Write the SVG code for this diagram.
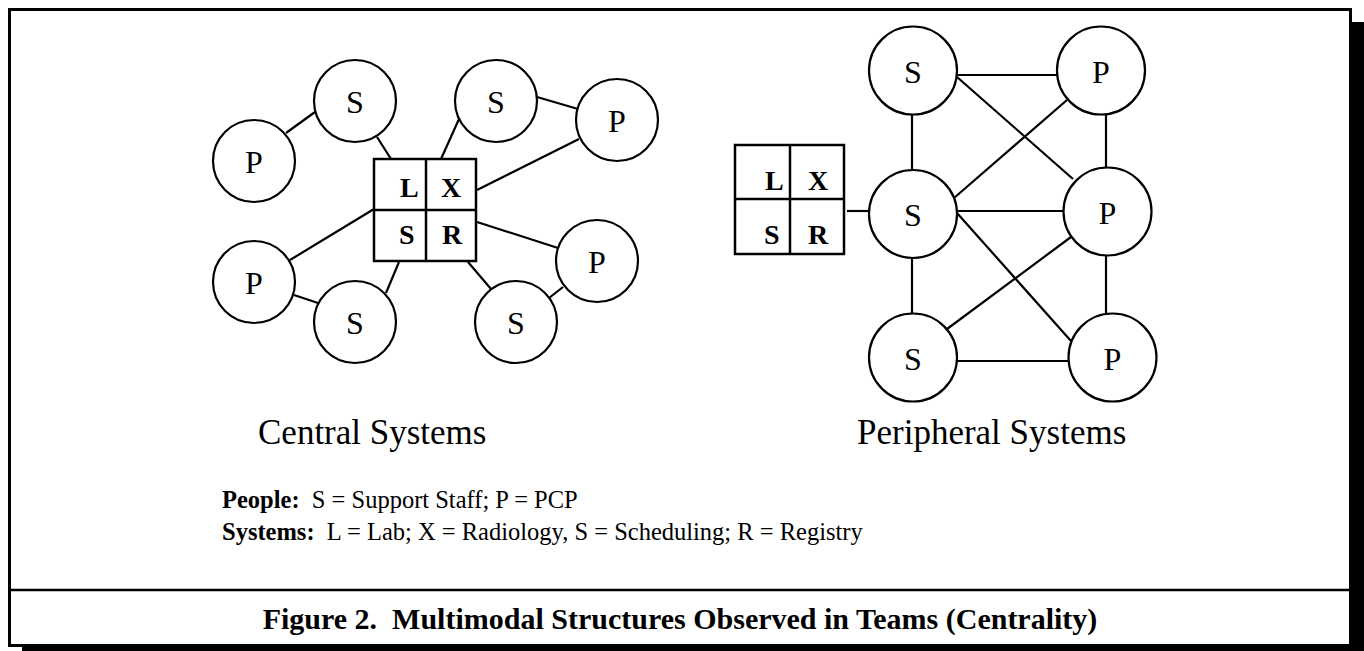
<svg xmlns="http://www.w3.org/2000/svg" width="1364" height="651" viewBox="0 0 1364 651">
<style>
.node circle{fill:#fff;stroke:#000;stroke-width:2.2}
.box rect{fill:#fff;stroke:#000;stroke-width:2.5}
.box line{stroke:#000;stroke-width:2.5}
.conn line{stroke:#000;stroke-width:2.2}
.nl{font-family:"Liberation Serif","Times New Roman",serif;font-size:32px;text-anchor:middle;fill:#000}
.bl{font-family:"Liberation Serif","Times New Roman",serif;font-size:28px;font-weight:bold;fill:#000}
.lab{font-family:"Liberation Serif","Times New Roman",serif;font-size:35px;fill:#000}
.leg{font-family:"Liberation Serif","Times New Roman",serif;font-size:24.5px;fill:#000}
.cap{font-family:"Liberation Serif","Times New Roman",serif;font-size:30px;font-weight:bold;text-anchor:middle;fill:#000}
</style>
<rect x="22" y="22" width="1342" height="629" fill="#000"/>
<rect x="9.5" y="9.5" width="1341" height="636" fill="#fff" stroke="#000" stroke-width="3"/>
<line x1="9.5" y1="590" x2="1350.5" y2="590" stroke="#000" stroke-width="2.5"/>

<g id="connectors" class="conn">
<line x1="286" y1="133" x2="315" y2="112"/>
<line x1="377" y1="137" x2="391" y2="159"/>
<line x1="459" y1="119" x2="441" y2="159"/>
<line x1="537" y1="97" x2="578" y2="109"/>
<line x1="579" y1="139" x2="477" y2="190"/>
<line x1="374" y1="209" x2="290" y2="260"/>
<line x1="294" y1="295" x2="318" y2="303"/>
<line x1="399" y1="262" x2="386" y2="293"/>
<line x1="477" y1="222" x2="558" y2="248"/>
<line x1="468" y1="262" x2="491" y2="289"/>
<line x1="549" y1="298" x2="563" y2="287"/>
<line x1="847" y1="211" x2="868" y2="211"/>
<line x1="957" y1="75" x2="1057" y2="75"/>
<line x1="912" y1="115" x2="912" y2="170"/>
<line x1="912" y1="258" x2="912" y2="313"/>
<line x1="1106" y1="115" x2="1106" y2="167"/>
<line x1="1106" y1="256" x2="1106" y2="313"/>
<line x1="957" y1="77" x2="1073" y2="179"/>
<line x1="954" y1="198" x2="1067" y2="100"/>
<line x1="957" y1="211" x2="1063" y2="211"/>
<line x1="957" y1="213" x2="1071" y2="341"/>
<line x1="947" y1="329" x2="1071" y2="237"/>
<line x1="957" y1="361" x2="1068" y2="361"/>
</g>

<g id="c-p1" class="node"><circle cx="254" cy="161" r="41"/><text class="nl" x="254" y="173">P</text></g>
<g id="c-s1" class="node"><circle cx="355" cy="101" r="41"/><text class="nl" x="355" y="113">S</text></g>
<g id="c-s2" class="node"><circle cx="496" cy="101" r="41"/><text class="nl" x="496" y="113">S</text></g>
<g id="c-p2" class="node"><circle cx="617" cy="120" r="41"/><text class="nl" x="617" y="132">P</text></g>
<g id="c-p3" class="node"><circle cx="254" cy="282" r="41"/><text class="nl" x="254" y="294">P</text></g>
<g id="c-s3" class="node"><circle cx="355" cy="322" r="41"/><text class="nl" x="355" y="334">S</text></g>
<g id="c-s4" class="node"><circle cx="516" cy="322" r="41"/><text class="nl" x="516" y="334">S</text></g>
<g id="c-p4" class="node"><circle cx="597" cy="261" r="41"/><text class="nl" x="597" y="273">P</text></g>

<g id="c-box" class="box">
<rect x="374" y="159" width="102" height="102"/>
<line x1="426" y1="159" x2="426" y2="261"/>
<line x1="374" y1="210" x2="476" y2="210"/>
<text class="bl" x="400" y="197">L</text>
<text class="bl" x="441" y="197">X</text>
<text class="bl" x="399" y="244">S</text>
<text class="bl" x="442" y="244">R</text>
</g>

<g id="p-box" class="box">
<rect x="735" y="145" width="109" height="109"/>
<line x1="790" y1="145" x2="790" y2="254"/>
<line x1="735" y1="199" x2="844" y2="199"/>
<text class="bl" x="765" y="190">L</text>
<text class="bl" x="808" y="190">X</text>
<text class="bl" x="764" y="244">S</text>
<text class="bl" x="808" y="244">R</text>
</g>

<g id="p-s1" class="node"><circle cx="913" cy="70.5" r="44"/><text class="nl" x="913" y="83">S</text></g>
<g id="p-p1" class="node"><circle cx="1101" cy="70.5" r="44"/><text class="nl" x="1101" y="83">P</text></g>
<g id="p-s2" class="node"><circle cx="913" cy="214" r="44"/><text class="nl" x="913" y="226">S</text></g>
<g id="p-p2" class="node"><circle cx="1107.5" cy="211.5" r="44"/><text class="nl" x="1107.5" y="224">P</text></g>
<g id="p-s3" class="node"><circle cx="913" cy="357.5" r="44"/><text class="nl" x="913" y="370">S</text></g>
<g id="p-p3" class="node"><circle cx="1112.5" cy="357.5" r="44"/><text class="nl" x="1112.5" y="370">P</text></g>

<g id="labels">
<text class="lab" x="258" y="444">Central Systems</text>
<text class="lab" x="857" y="444">Peripheral Systems</text>
</g>

<g id="legend">
<text class="leg" x="222" y="508" xml:space="preserve"><tspan font-weight="bold">People:</tspan>  S = Support Staff; P = PCP</text>
<text class="leg" x="222" y="540" xml:space="preserve"><tspan font-weight="bold">Systems:</tspan>  L = Lab; X = Radiology, S = Scheduling; R = Registry</text>
</g>

<g id="caption">
<text class="cap" x="680" y="629" xml:space="preserve">Figure 2.  Multimodal Structures Observed in Teams (Centrality)</text>
</g>
</svg>
